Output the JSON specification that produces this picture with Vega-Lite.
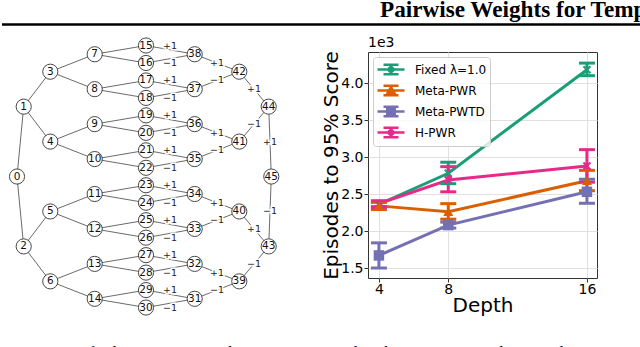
{
 "$schema": "https://vega.github.io/schema/vega-lite/v6.json",
 "padding": 0,
 "spacing": 8,
 "background": "white",
 "config": {"view": {"stroke": null}, "font": "DejaVu Sans"},
 "resolve": {"legend": {"color": "independent"}, "scale": {"color": "independent"}},
 "datasets": {
  "nodes": [
   {"id":0,"x":1.5,"r":7.5},{"id":1,"x":2.17,"r":3.5},{"id":2,"x":2.17,"r":11.5},
   {"id":3,"x":4.83,"r":1.5},{"id":4,"x":4.83,"r":5.5},{"id":5,"x":4.83,"r":9.5},{"id":6,"x":4.83,"r":13.5},
   {"id":7,"x":9.27,"r":0.5},{"id":8,"x":9.27,"r":2.5},{"id":9,"x":9.27,"r":4.5},{"id":10,"x":9.27,"r":6.5},
   {"id":11,"x":9.27,"r":8.5},{"id":12,"x":9.27,"r":10.5},{"id":13,"x":9.27,"r":12.5},{"id":14,"x":9.27,"r":14.5},
   {"id":15,"x":14.4,"r":0},{"id":16,"x":14.4,"r":1},{"id":17,"x":14.4,"r":2},{"id":18,"x":14.4,"r":3},
   {"id":19,"x":14.4,"r":4},{"id":20,"x":14.4,"r":5},{"id":21,"x":14.4,"r":6},{"id":22,"x":14.4,"r":7},
   {"id":23,"x":14.4,"r":8},{"id":24,"x":14.4,"r":9},{"id":25,"x":14.4,"r":10},{"id":26,"x":14.4,"r":11},
   {"id":27,"x":14.4,"r":12},{"id":28,"x":14.4,"r":13},{"id":29,"x":14.4,"r":14},{"id":30,"x":14.4,"r":15},
   {"id":31,"x":19.27,"r":14.5},{"id":32,"x":19.27,"r":12.5},{"id":33,"x":19.27,"r":10.5},{"id":34,"x":19.27,"r":8.5},
   {"id":35,"x":19.27,"r":6.5},{"id":36,"x":19.27,"r":4.5},{"id":37,"x":19.27,"r":2.5},{"id":38,"x":19.27,"r":0.5},
   {"id":39,"x":23.73,"r":13.5},{"id":40,"x":23.73,"r":9.5},{"id":41,"x":23.73,"r":5.5},{"id":42,"x":23.73,"r":1.5},
   {"id":43,"x":26.67,"r":11.5},{"id":44,"x":26.67,"r":3.5},{"id":45,"x":26.93,"r":7.5}
  ],
  "edges": [
   {"s":0,"t":1},{"s":0,"t":2},{"s":1,"t":3},{"s":1,"t":4},{"s":2,"t":5},{"s":2,"t":6},
   {"s":3,"t":7},{"s":3,"t":8},{"s":4,"t":9},{"s":4,"t":10},{"s":5,"t":11},{"s":5,"t":12},{"s":6,"t":13},{"s":6,"t":14},
   {"s":7,"t":15},{"s":7,"t":16},{"s":8,"t":17},{"s":8,"t":18},{"s":9,"t":19},{"s":9,"t":20},{"s":10,"t":21},{"s":10,"t":22},
   {"s":11,"t":23},{"s":11,"t":24},{"s":12,"t":25},{"s":12,"t":26},{"s":13,"t":27},{"s":13,"t":28},{"s":14,"t":29},{"s":14,"t":30},
   {"s":15,"t":38},{"s":16,"t":38},{"s":17,"t":37},{"s":18,"t":37},{"s":19,"t":36},{"s":20,"t":36},{"s":21,"t":35},{"s":22,"t":35},
   {"s":23,"t":34},{"s":24,"t":34},{"s":25,"t":33},{"s":26,"t":33},{"s":27,"t":32},{"s":28,"t":32},{"s":29,"t":31},{"s":30,"t":31},
   {"s":38,"t":42},{"s":37,"t":42},{"s":36,"t":41},{"s":35,"t":41},{"s":34,"t":40},{"s":33,"t":40},{"s":32,"t":39},{"s":31,"t":39},
   {"s":42,"t":44},{"s":41,"t":44},{"s":40,"t":43},{"s":39,"t":43},{"s":44,"t":45},{"s":43,"t":45}
  ],
  "edgelabels": [
   {"x":16.8,"r":0,"t":"+1"},{"x":16.8,"r":1,"t":"−1"},{"x":16.8,"r":2,"t":"+1"},{"x":16.8,"r":3,"t":"−1"},
   {"x":16.8,"r":4,"t":"+1"},{"x":16.8,"r":5,"t":"−1"},{"x":16.8,"r":6,"t":"+1"},{"x":16.8,"r":7,"t":"−1"},
   {"x":16.8,"r":8,"t":"+1"},{"x":16.8,"r":9,"t":"−1"},{"x":16.8,"r":10,"t":"+1"},{"x":16.8,"r":11,"t":"−1"},
   {"x":16.8,"r":12,"t":"+1"},{"x":16.8,"r":13,"t":"−1"},{"x":16.8,"r":14,"t":"+1"},{"x":16.8,"r":15,"t":"−1"},
   {"x":21.5,"r":1.0,"t":"+1"},{"x":21.5,"r":2.0,"t":"−1"},{"x":21.5,"r":5.0,"t":"+1"},{"x":21.5,"r":6.0,"t":"−1"},
   {"x":21.5,"r":9.0,"t":"+1"},{"x":21.5,"r":10.0,"t":"−1"},{"x":21.5,"r":13.0,"t":"+1"},{"x":21.5,"r":14.0,"t":"−1"},
   {"x":25.2,"r":2.5,"t":"+1"},{"x":25.2,"r":4.5,"t":"−1"},{"x":25.2,"r":10.5,"t":"+1"},{"x":25.2,"r":12.5,"t":"−1"},
   {"x":26.8,"r":5.5,"t":"+1"},{"x":26.8,"r":9.5,"t":"−1"}
  ],
  "results": [
   {"method":"Fixed λ=1.0","depth":4,"mean":2.36,"lo":2.33,"hi":2.39},
   {"method":"Fixed λ=1.0","depth":8,"mean":2.78,"lo":2.64,"hi":2.93},
   {"method":"Fixed λ=1.0","depth":16,"mean":4.18,"lo":4.10,"hi":4.27},
   {"method":"Meta-PWR","depth":4,"mean":2.34,"lo":2.29,"hi":2.39},
   {"method":"Meta-PWR","depth":8,"mean":2.26,"lo":2.16,"hi":2.37},
   {"method":"Meta-PWR","depth":16,"mean":2.68,"lo":2.545,"hi":2.82},
   {"method":"Meta-PWTD","depth":4,"mean":1.67,"lo":1.50,"hi":1.84},
   {"method":"Meta-PWTD","depth":8,"mean":2.08,"lo":2.04,"hi":2.12},
   {"method":"Meta-PWTD","depth":16,"mean":2.53,"lo":2.375,"hi":2.70},
   {"method":"H-PWR","depth":4,"mean":2.37,"lo":2.32,"hi":2.41},
   {"method":"H-PWR","depth":8,"mean":2.69,"lo":2.53,"hi":2.87},
   {"method":"H-PWR","depth":16,"mean":2.88,"lo":2.66,"hi":3.10}
  ]
 },
 "vconcat": [
  {
   "width": 640, "height": 27,
   "layer": [
    {"data": {"values": [{"t": "Pairwise Weights for Temporal Credit Assignment", "x": 0.5906, "y": 0.37}]},
     "mark": {"type": "text", "align": "left", "baseline": "alphabetic", "font": "Liberation Serif", "fontWeight": "bold", "fontSize": 23.2, "color": "#000", "clip": true},
     "encoding": {
      "x": {"field": "x", "type": "quantitative", "scale": {"domain": [0, 1], "nice": false, "zero": false}, "axis": null},
      "y": {"field": "y", "type": "quantitative", "scale": {"domain": [0, 1], "nice": false, "zero": false}, "axis": null},
      "text": {"field": "t"}}},
    {"data": {"values": [{"x": 0, "x2": 1, "y": 0.089}]},
     "mark": {"type": "rule", "strokeWidth": 2.5, "color": "#000"},
     "encoding": {"x": {"field": "x", "type": "quantitative"}, "x2": {"field": "x2"}, "y": {"field": "y", "type": "quantitative"}}}
   ]
  },
  {
   "spacing": 19,
   "resolve": {"legend": {"color": "independent"}, "scale": {"color": "independent"}},
   "hconcat": [
    {
     "width": 300, "height": 262,
     "layer": [
      {"data": {"name": "edges"},
       "transform": [
        {"lookup": "s", "from": {"data": {"name": "nodes"}, "key": "id", "fields": ["x", "r"]}, "as": ["sx", "sr"]},
        {"lookup": "t", "from": {"data": {"name": "nodes"}, "key": "id", "fields": ["x", "r"]}, "as": ["tx", "tr"]}
       ],
       "mark": {"type": "rule", "stroke": "#444", "strokeWidth": 0.8},
       "encoding": {
        "x": {"field": "sx", "type": "quantitative", "scale": {"domain": [0, 30], "nice": false, "zero": false}, "axis": null},
        "y": {"field": "sr", "type": "quantitative", "scale": {"domain": [0.372, 15.369], "reverse": true, "nice": false, "zero": false}, "axis": null},
        "x2": {"field": "tx"}, "y2": {"field": "tr"}}},
      {"data": {"name": "edgelabels"},
       "mark": {"type": "text", "fontSize": 9.5, "font": "DejaVu Sans", "stroke": "white", "strokeWidth": 3, "color": "white", "baseline": "middle"},
       "encoding": {"x": {"field": "x", "type": "quantitative"}, "y": {"field": "r", "type": "quantitative"}, "text": {"field": "t"}}},
      {"data": {"name": "edgelabels"},
       "mark": {"type": "text", "fontSize": 9.5, "font": "DejaVu Sans", "color": "#222", "baseline": "middle"},
       "encoding": {"x": {"field": "x", "type": "quantitative"}, "y": {"field": "r", "type": "quantitative"}, "text": {"field": "t"}}},
      {"data": {"name": "nodes"},
       "mark": {"type": "point", "shape": "circle", "size": 230, "filled": true, "fill": "white", "stroke": "#333", "strokeWidth": 0.9, "opacity": 1},
       "encoding": {"x": {"field": "x", "type": "quantitative"}, "y": {"field": "r", "type": "quantitative"}}},
      {"data": {"name": "nodes"},
       "mark": {"type": "text", "fontSize": 10.5, "font": "DejaVu Sans", "color": "#111", "baseline": "middle", "align": "center"},
       "encoding": {"x": {"field": "x", "type": "quantitative"}, "y": {"field": "r", "type": "quantitative"}, "text": {"field": "id", "type": "nominal"}}}
     ]
    },
    {
     "width": 229, "height": 226,
     "view": {"stroke": "#333", "strokeWidth": 1},
     "title": {"text": "1e3", "anchor": "start", "font": "DejaVu Sans", "fontSize": 14, "fontWeight": "normal", "offset": 1, "color": "#000", "frame": "group"},
     "data": {"name": "results"},
     "encoding": {
      "x": {"field": "depth", "type": "quantitative", "title": "Depth",
            "scale": {"domain": [3.37, 16.58], "nice": false, "zero": false},
            "axis": {"values": [4, 8, 16], "labelFontSize": 14, "titleFontSize": 20, "titleFontWeight": "normal", "tickSize": 4, "labelPadding": 0, "titlePadding": -1, "grid": true, "gridColor": "#e0e0e0", "domain": false, "labelColor": "#000", "titleColor": "#000", "tickColor": "#333", "labelFont": "DejaVu Sans", "titleFont": "DejaVu Sans", "labelFlush": false}},
      "color": {"field": "method", "type": "nominal",
                "scale": {"domain": ["Fixed λ=1.0", "Meta-PWR", "Meta-PWTD", "H-PWR"], "range": ["#1b9e77", "#d95f02", "#7570b3", "#e7298a"]},
                "legend": {"orient": "top-left", "offset": 5, "title": null, "padding": 3, "fillColor": "rgba(255,255,255,0.8)", "strokeColor": "#cccccc", "cornerRadius": 3, "labelFont": "DejaVu Sans", "labelFontSize": 12, "labelColor": "#000", "symbolSize": 256, "labelOffset": 20, "rowPadding": 0, "symbolStrokeWidth": 2.5,
                           "encode": {"symbols": {"update": {
                             "shape": {"signal": "datum.value === 'Meta-PWR' ? 'M-1,0H2.375M0.6875,-0.585V0.585M-0.25,-0.585H1.625M-0.25,0.585H1.625M0.6875,-0.43L1.125,0.34L0.25,0.34Z' : datum.value === 'Meta-PWTD' ? 'M-1,0H2.375M0.6875,-0.585V0.585M-0.25,-0.585H1.625M-0.25,0.585H1.625M0.22,-0.47H1.16V0.47H0.22Z' : 'M-1,0H2.375M0.6875,-0.585V0.585M-0.25,-0.585H1.625M-0.25,0.585H1.625M0.375,-0.31L1,0.31M0.375,0.31L1,-0.31'"},
                             "fill": {"scale": "color", "field": "value"},
                             "stroke": {"scale": "color", "field": "value"},
                             "strokeWidth": {"value": 2.5},
                             "opacity": {"value": 1}}}}}}
     },
     "layer": [
      {"mark": {"type": "line", "strokeWidth": 3},
       "encoding": {"y": {"field": "mean", "type": "quantitative", "title": "Episodes to 95% Score",
                          "scale": {"domain": [1.365, 4.42], "nice": false, "zero": false},
                          "axis": {"values": [1.5, 2.0, 2.5, 3.0, 3.5, 4.0], "format": ".1f", "labelFontSize": 14, "titleFontSize": 20, "titleFontWeight": "normal", "tickSize": 4, "labelPadding": 1, "titlePadding": -1, "grid": true, "gridColor": "#e0e0e0", "domain": false, "labelColor": "#000", "titleColor": "#000", "tickColor": "#333", "labelFont": "DejaVu Sans", "titleFont": "DejaVu Sans"}}}},
      {"mark": {"type": "rule", "strokeWidth": 3},
       "encoding": {"y": {"field": "lo", "type": "quantitative", "title": "Episodes to 95% Score"}, "y2": {"field": "hi"}}},
      {"mark": {"type": "point", "shape": "M-1,0H1", "filled": false, "strokeWidth": 3, "size": 256, "opacity": 1},
       "encoding": {"y": {"field": "lo", "type": "quantitative", "title": "Episodes to 95% Score"}}},
      {"mark": {"type": "point", "shape": "M-1,0H1", "filled": false, "strokeWidth": 3, "size": 256, "opacity": 1},
       "encoding": {"y": {"field": "hi", "type": "quantitative", "title": "Episodes to 95% Score"}}},
      {"transform": [{"filter": {"field": "method", "oneOf": ["Fixed λ=1.0", "H-PWR"]}}],
       "mark": {"type": "point", "shape": "M-1,-1L1,1M-1,1L1,-1", "filled": false, "strokeWidth": 2, "size": 49, "opacity": 1},
       "encoding": {"y": {"field": "mean", "type": "quantitative", "title": "Episodes to 95% Score"}}},
      {"transform": [{"filter": {"field": "method", "equal": "Meta-PWR"}}],
       "mark": {"type": "point", "shape": "triangle-up", "filled": true, "size": 100, "opacity": 1},
       "encoding": {"y": {"field": "mean", "type": "quantitative", "title": "Episodes to 95% Score"}}},
      {"transform": [{"filter": {"field": "method", "equal": "Meta-PWTD"}}],
       "mark": {"type": "point", "shape": "square", "filled": true, "size": 110, "opacity": 1},
       "encoding": {"y": {"field": "mean", "type": "quantitative", "title": "Episodes to 95% Score"}}}
     ]
    }
   ]
  },
  {
   "width": 640, "height": 26,
   "data": {"values": [{"t": "Figure 3. Left: the tree-structured environment used in the pairwise weights visualization experiments; right: episodes to reach 95% score.", "x": 0.005, "y": -0.25}]},
   "mark": {"type": "text", "align": "left", "baseline": "alphabetic", "font": "Liberation Serif", "fontSize": 17, "color": "#000", "clip": true},
   "encoding": {
    "x": {"field": "x", "type": "quantitative", "scale": {"domain": [0, 1], "nice": false, "zero": false}, "axis": null},
    "y": {"field": "y", "type": "quantitative", "scale": {"domain": [0, 1], "nice": false, "zero": false}, "axis": null},
    "text": {"field": "t"}}
  }
 ]
}
